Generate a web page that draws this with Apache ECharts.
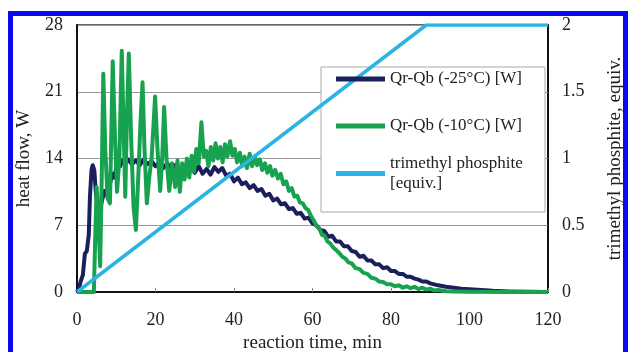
<!DOCTYPE html>
<html>
<head>
<meta charset="utf-8">
<script src="https://cdn.jsdelivr.net/npm/echarts@6/dist/echarts.min.js"></script>
<style>
  html, body { margin: 0; padding: 0; background: #fff; }
  #chart { width: 628px; height: 352px; }
  #frame { position: absolute; left: 8px; top: 11px; width: 610px; height: 342px; border: 5px solid #0a0af0; pointer-events: none; }
</style>
</head>
<body>
<div id="chart"></div>
<div id="frame"></div>
<script>
// heat flow, -25 °C run
const coldTime = [0, 0.5, 1, 1.5, 2, 2.5, 3, 3.3, 3.7, 4.0, 4.4, 4.8, 5.3, 5.8, 6.3, 7, 7.5, 8, 8.5, 9, 9.5, 10, 10.5, 11, 11.5, 12,
  13, 14, 15, 16, 17, 18, 19, 20, 21, 22, 23, 24, 25, 26, 27, 28, 29, 30, 31, 32, 33, 34, 35, 36, 37, 38, 39, 40,
  41, 42, 43, 44, 45, 46, 47, 48, 49, 50, 51, 52, 53, 54, 55, 56, 57, 58, 59, 60, 61, 62, 63, 64, 65, 66, 67, 68,
  69, 70, 71, 72, 73, 74, 75, 76, 77, 78, 79, 80, 81, 82, 83, 84, 85, 86, 87, 88, 89, 90, 92, 94, 96, 98, 100,
  103, 106, 110, 115, 120];
const coldFlow = [0, 0.4, 1.2, 1.8, 4.0, 4.3, 6, 10, 12.8, 13.3, 12.8, 10.5, 8.5, 8.2, 9.5, 10.6, 10.2, 11.2, 11.5, 12.4, 12.0, 13.0, 13.6, 13.2, 13.8, 13.5,
  13.9, 13.4, 13.8, 13.3, 13.9, 13.4, 13.7, 13.2, 13.6, 13.0, 13.5, 12.9, 13.3, 12.6, 13.1, 12.4, 13.0, 12.5, 13.2, 12.4, 12.9, 12.3, 13.1, 12.6, 13.0, 12.2, 12.4, 11.6,
  12.0, 11.3, 11.5, 10.9, 11.2, 10.6, 10.8, 10.1, 10.3, 9.6, 9.8, 9.2, 9.3, 8.7, 8.8, 8.2, 8.3, 7.7, 7.8, 7.2, 7.0, 6.5, 6.4, 5.8, 5.9, 5.3, 5.3, 4.8,
  4.8, 4.3, 4.2, 3.7, 3.8, 3.3, 3.3, 2.9, 2.9, 2.5, 2.6, 2.2, 2.2, 1.9, 1.9, 1.6, 1.6, 1.4, 1.3, 1.1, 1.1, 0.9, 0.7, 0.55, 0.45, 0.35, 0.28,
  0.2, 0.12, 0.06, 0.02, 0];

// heat flow, -10 °C run
const warmTime = [0, 4.3, 4.6, 5.0, 5.4, 5.9, 6.3, 6.7, 7.2, 7.8, 8.4, 9.1, 9.7, 10.2, 10.8, 11.4, 12.0, 12.3, 12.7, 13.2, 13.8, 14.4, 15.0,
  15.6, 16.2, 16.7, 17.2, 17.8, 18.4, 19.0, 19.9, 20.5, 21.2, 21.7, 22.2, 22.8, 23.5, 24.2, 25.0, 25.6, 26.2, 26.8, 27.4, 28.0,
  28.6, 29.2, 29.8, 30.4, 31.0, 31.7, 32.3, 32.9, 33.5, 34.1, 34.7, 35.3, 35.9, 36.5, 37.1, 37.7, 38.3, 39.0, 39.6, 40.2, 40.8,
  41.5, 42.1, 42.7, 43.3, 44.0, 44.6, 45.3, 45.9, 46.6, 47.2, 47.9, 48.5, 49.2, 49.8, 50.5, 51.2, 51.9, 52.6, 53.3, 54.0, 54.7,
  55.4, 56.1, 56.8, 57.5, 58.2, 58.9, 59.6, 60.3, 61, 61.7, 62.4, 63.1, 63.8, 64.5, 65.2, 66, 66.8, 67.6, 68.4, 69.2, 70, 71, 72,
  73, 74, 75, 76, 77, 78, 79, 80, 81, 82, 83, 84, 85, 86, 87, 88, 89, 90, 91, 92, 94, 96, 100, 110, 120];
const warmFlow = [0, 0, 5, 11, 8, 2.7, 12, 22.9, 15, 9.8, 9.3, 24.2, 16, 10.5, 14, 25.3, 15, 10, 18, 25.0, 16, 9, 6.5,
  12, 18, 22.0, 15, 9.3, 12, 14, 20.5, 15, 10.6, 14, 19.4, 14, 10.6, 13.5, 11, 13.8, 10.5, 13.5, 11.8, 14.0,
  12.0, 14.3, 12.6, 15.0, 13.5, 17.8, 14.2, 14.8, 13.2, 15.2, 13.8, 15.6, 14.0, 15.2, 13.6, 15.5, 14.2, 15.8, 14.3, 15.0, 13.6,
  14.6, 13.2, 14.2, 13.0, 14.5, 13.2, 14.2, 13.3, 13.9, 12.8, 13.5, 12.5, 13.2, 12.2, 12.8, 11.9, 12.4, 11.3, 11.6, 10.6, 10.9,
  10.0, 10.1, 9.4, 9.3, 8.8, 8.6, 8.0, 7.5, 6.9, 6.7, 6.0, 5.9, 5.3, 5.1, 4.7, 4.4, 4.1, 3.7, 3.5, 3.1, 3.0, 2.5, 2.4,
  2.0, 1.9, 1.5, 1.4, 1.1, 1.05, 0.8, 0.8, 0.6, 0.7, 0.45, 0.6, 0.4, 0.55, 0.3, 0.45, 0.25, 0.35, 0.15, 0.2, 0.08, 0.05, 0.02, 0, 0];

// trimethyl phosphite dosed
const doseTime = [0, 89, 120];
const doseEquiv = [0, 2, 2];

const names = ['Qr-Qb (-25°C) [W]', 'Qr-Qb (-10°C) [W]', 'trimethyl phosphite [equiv.]'];
const colors = ['#1b1f5c', '#17a24f', '#2ab4e4'];

const font = 'Liberation Serif';
const pair = (xs, ys) => xs.map((x, i) => [x, ys[i]]);

const chart = echarts.init(document.getElementById('chart'));
const legendBase = {
  orient: 'vertical', padding: 0, icon: 'rect', itemWidth: 49, itemHeight: 5,
  left: 336, selectedMode: false,
  textStyle: { fontFamily: font, fontSize: 17, color: '#222', lineHeight: 20 }
};
const labelText = { fontFamily: font, fontSize: 18, color: '#222' };
const nameText = { fontFamily: font, fontSize: 19, color: '#222' };

chart.setOption({
  animation: false,
  textStyle: { fontFamily: font },
  grid: { left: 77, right: 80, top: 25, bottom: 60, show: true, borderColor: '#333', borderWidth: 1.5, outerBoundsMode: 'none' },
  graphic: [{
    type: 'rect', z: 1,
    shape: { x: 321, y: 67, width: 224, height: 145 },
    style: { fill: '#fff', stroke: '#aaa', lineWidth: 1 }
  }],
  legend: [
    Object.assign({}, legendBase, { top: 69, data: [names[0]] }),
    Object.assign({}, legendBase, { top: 116, data: [names[1]] }),
    Object.assign({}, legendBase, {
      top: 143.5,
      data: [{ name: names[2], textStyle: { fontFamily: font, fontSize: 17, color: '#222', lineHeight: 20, padding: [20, 0, 0, 0] } }],
      formatter: () => 'trimethyl phosphite\n[equiv.]'
    })
  ],
  xAxis: {
    type: 'value', min: 0, max: 120, interval: 20,
    name: 'reaction time, min', nameLocation: 'middle', nameGap: 42,
    nameTextStyle: nameText,
    axisLine: { lineStyle: { color: '#111', width: 2 } },
    axisTick: { inside: true, length: 4, lineStyle: { color: '#888' } },
    axisLabel: Object.assign({ margin: 19 }, labelText),
    splitLine: { show: false }
  },
  yAxis: [{
    type: 'value', min: 0, max: 28, interval: 7,
    name: 'heat flow, W', nameLocation: 'middle', nameGap: 43, nameRotate: 90,
    nameTextStyle: nameText,
    axisLine: { show: true, lineStyle: { color: '#111', width: 2 } },
    axisTick: { show: false },
    axisLabel: Object.assign({ margin: 14 }, labelText),
    splitLine: { lineStyle: { color: '#999', width: 1 } }
  }, {
    type: 'value', min: 0, max: 2, interval: 0.5, position: 'right',
    name: 'trimethyl phosphite, equiv.', nameLocation: 'middle', nameGap: 58, nameRotate: 90,
    nameTextStyle: nameText,
    axisLine: { show: true, lineStyle: { color: '#111', width: 2 } },
    axisTick: { show: true, inside: true, length: 4, lineStyle: { color: '#888' } },
    axisLabel: Object.assign({ margin: 14 }, labelText),
    splitLine: { show: false }
  }],
  series: [
    { name: names[0], type: 'line', data: pair(coldTime, coldFlow), symbol: 'none', color: colors[0], lineStyle: { width: 4, join: 'round' } },
    { name: names[1], type: 'line', data: pair(warmTime, warmFlow), symbol: 'none', color: colors[1], lineStyle: { width: 4, join: 'round' } },
    { name: names[2], type: 'line', yAxisIndex: 1, data: pair(doseTime, doseEquiv), symbol: 'none', color: colors[2], lineStyle: { width: 3.5 } }
  ]
});
</script>
</body>
</html>
